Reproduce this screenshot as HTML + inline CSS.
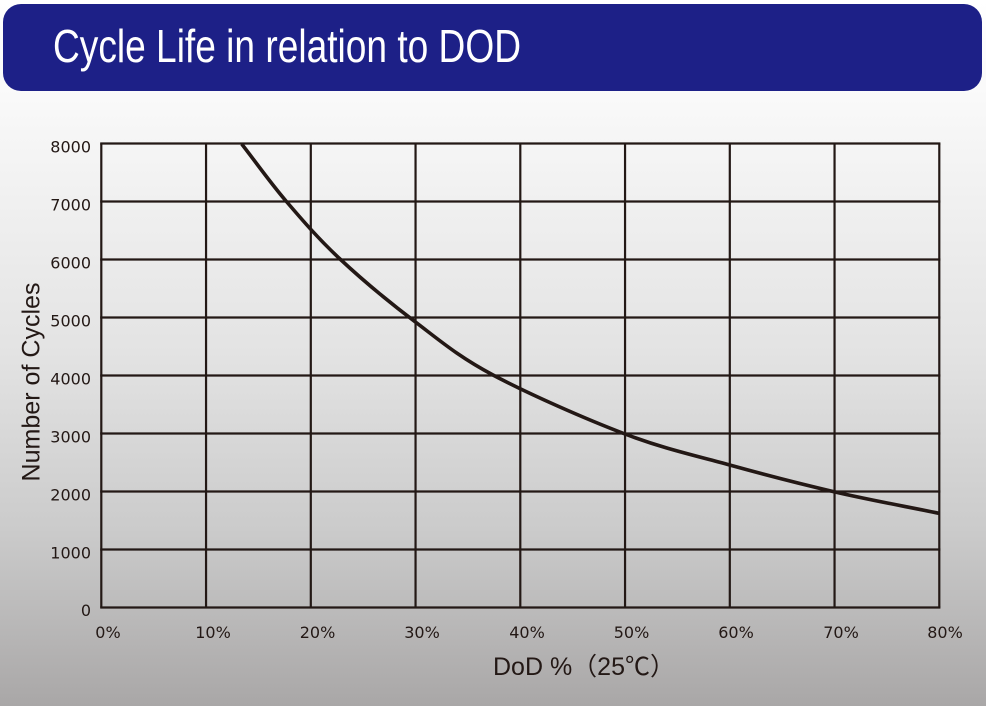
<!DOCTYPE html>
<html>
<head>
<meta charset="utf-8">
<style>
  html, body { margin: 0; padding: 0; background: #ffffff; }
  svg { display: block; }
</style>
</head>
<body>
<svg width="986" height="706" viewBox="0 0 986 706" xmlns="http://www.w3.org/2000/svg">
  <defs>
    <linearGradient id="bg" x1="0" y1="0" x2="0" y2="1">
      <stop offset="0" stop-color="#ffffff"/>
      <stop offset="0.14" stop-color="#f9f9f9"/>
      <stop offset="0.5" stop-color="#e3e3e3"/>
      <stop offset="0.75" stop-color="#cbcbcb"/>
      <stop offset="1" stop-color="#a9a7a7"/>
    </linearGradient>
  </defs>
  <rect x="0" y="0" width="986" height="706" fill="url(#bg)"/>

  <!-- Header banner -->
  <rect x="3" y="4" width="979" height="87" rx="18" ry="18" fill="#1d2087"/>
  <text x="53" y="62" font-family="'Liberation Sans', Arial, sans-serif" font-size="46" fill="#ffffff" textLength="468" lengthAdjust="spacingAndGlyphs">Cycle Life in relation to DOD</text>

  <!-- Grid -->
  <g stroke="#231815" stroke-width="2.2" fill="none">
    <line x1="101.3" y1="143.5" x2="101.3" y2="607.5"/>
    <line x1="206.05" y1="143.5" x2="206.05" y2="607.5"/>
    <line x1="310.8" y1="143.5" x2="310.8" y2="607.5"/>
    <line x1="415.55" y1="143.5" x2="415.55" y2="607.5"/>
    <line x1="520.3" y1="143.5" x2="520.3" y2="607.5"/>
    <line x1="625.05" y1="143.5" x2="625.05" y2="607.5"/>
    <line x1="729.8" y1="143.5" x2="729.8" y2="607.5"/>
    <line x1="834.55" y1="143.5" x2="834.55" y2="607.5"/>
    <line x1="939.3" y1="143.5" x2="939.3" y2="607.5"/>

    <line x1="100.2" y1="143.5" x2="940.4" y2="143.5"/>
    <line x1="100.2" y1="201.5" x2="940.4" y2="201.5"/>
    <line x1="100.2" y1="259.5" x2="940.4" y2="259.5"/>
    <line x1="100.2" y1="317.5" x2="940.4" y2="317.5"/>
    <line x1="100.2" y1="375.5" x2="940.4" y2="375.5"/>
    <line x1="100.2" y1="433.5" x2="940.4" y2="433.5"/>
    <line x1="100.2" y1="491.5" x2="940.4" y2="491.5"/>
    <line x1="100.2" y1="549.5" x2="940.4" y2="549.5"/>
    <line x1="100.2" y1="607.5" x2="940.4" y2="607.5"/>
  </g>

  <!-- Curve -->
  <path d="M241.7,144 C256.5,163 269.6,181.8 286,201 C302.4,220.2 318.5,238.9 340,259 C361.5,279.1 389.5,302.4 415,321.7 C440.5,341 458,356.3 493,375 C528,393.7 585.6,419 625,434 C664.5,449 694.9,455.4 729.7,465 C764.5,474.6 799.1,483.6 834,491.7 C868.9,499.8 904,506.1 939,513.3"
        fill="none" stroke="#231815" stroke-width="3.6" stroke-linecap="butt" stroke-linejoin="round"/>

  <!-- Y tick labels -->
  <g font-family="'DejaVu Sans', Verdana, sans-serif" font-size="16" fill="#231815" text-anchor="end">
    <text x="91" y="152.5">8000</text>
    <text x="91" y="210.5">7000</text>
    <text x="91" y="268.5">6000</text>
    <text x="91" y="326.5">5000</text>
    <text x="91" y="384.5">4000</text>
    <text x="91" y="442.5">3000</text>
    <text x="91" y="500.5">2000</text>
    <text x="91" y="558.5">1000</text>
    <text x="91" y="616">0</text>
  </g>

  <!-- X tick labels -->
  <g font-family="'DejaVu Sans', Verdana, sans-serif" font-size="16" fill="#231815" text-anchor="middle">
    <text x="108" y="638">0%</text>
    <text x="213" y="638">10%</text>
    <text x="317.5" y="638">20%</text>
    <text x="422" y="638">30%</text>
    <text x="527" y="638">40%</text>
    <text x="631.5" y="638">50%</text>
    <text x="736" y="638">60%</text>
    <text x="841" y="638">70%</text>
    <text x="945" y="638">80%</text>
  </g>

  <!-- Axis titles -->
  <text transform="translate(39.5,382) rotate(-90)" text-anchor="middle" font-family="'Liberation Sans', Arial, sans-serif" font-size="25" fill="#231815" textLength="199" lengthAdjust="spacingAndGlyphs">Number of Cycles</text>

  <text x="493" y="675" font-family="'Liberation Sans', 'Noto Sans CJK SC', sans-serif" font-size="25" fill="#231815">DoD %（25℃）</text>
</svg>
</body>
</html>
